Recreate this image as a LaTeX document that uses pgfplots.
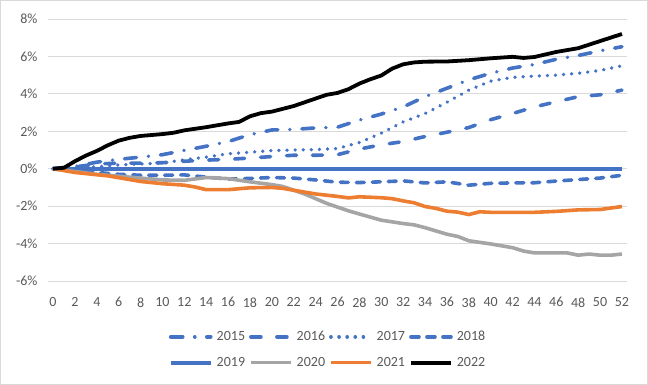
\documentclass[border=0pt]{standalone}
\usepackage{pgfplots}
\pgfplotsset{compat=1.18}
\usepackage{fontspec}
\setmainfont{Carlito}
\definecolor{xblue}{HTML}{4472C4}
\definecolor{xgray}{HTML}{A5A5A5}
\definecolor{xorange}{HTML}{ED7D31}
\definecolor{xgrid}{HTML}{D9D9D9}
\definecolor{xtext}{HTML}{595959}
\begin{document}
\begin{tikzpicture}[x=1pt,y=1pt]
\draw[xgrid, line width=1pt] (0.5,0.5) rectangle (647.5,384.5);
\begin{axis}[
  at={(48pt,104pt)}, anchor=south west,
  scale only axis, width=579pt, height=262pt,
  xmin=-0.46, xmax=52.46, ymin=-6, ymax=8,
  xtick={0,2,...,52}, ytick={-6,-4,...,8},
  axis line style={draw=none},
  major tick length=0pt,
  ymajorgrids, grid style={xgrid, line width=0.8pt},
  /pgf/number format/assume math mode=true,
  yticklabel={\pgfmathprintnumber{\tick}\%},
  ticklabel style={font=\fontsize{14}{16}\selectfont, text=xtext},
  yticklabel style={anchor=east, xshift=-7pt},
  xticklabel style={anchor=north, yshift=-13pt},
  legend columns=4,
  legend style={at={(0.4836,-0.262)}, anchor=center, draw=none, fill=none,
    font=\fontsize{14}{16}\selectfont, text=xtext, row sep=11pt, column sep=2pt},
  legend cell align=left,
  legend image code/.code={\draw[#1] (0pt,0pt) -- (40pt,0pt);},
  every axis plot/.append style={line width=3.6pt, line join=round},
]
% 2015
\addplot[xblue, line cap=round, dash pattern=on 12pt off 12pt on 0.1pt off 12pt] coordinates {
(0,0) (2,0.12) (4,0.35) (6,0.5) (8,0.62) (10,0.75) (12,0.98) (14,1.2) (16,1.45) (18,1.82) (20,2.07) (22,2.1) (24,2.18) (26,2.22) (28,2.6) (30,2.92) (32,3.3) (34,3.85) (36,4.3) (38,4.75) (40,5.1) (42,5.38) (44,5.57) (46,5.85) (48,6.05) (50,6.3) (52,6.52)};
\addlegendentry{2015}
% 2016
\addplot[xblue, line cap=round, dash pattern=on 10pt off 16pt] coordinates {
(0,0) (2,0.1) (4,0.25) (6,0.3) (8,0.3) (10,0.32) (12,0.4) (14,0.46) (16,0.5) (18,0.57) (20,0.65) (22,0.72) (24,0.72) (26,0.75) (28,1.05) (30,1.28) (32,1.45) (34,1.72) (36,1.95) (38,2.2) (40,2.62) (42,2.95) (44,3.3) (46,3.58) (48,3.85) (50,3.95) (52,4.2)};
\addlegendentry{2016}
% 2017
\addplot[xblue, line cap=round, dash pattern=on 0.1pt off 8pt] coordinates {
(0,0) (2,0.05) (4,0.1) (6,0.2) (8,0.25) (10,0.3) (12,0.48) (14,0.62) (16,0.8) (18,0.88) (20,0.97) (22,1.0) (24,1.02) (26,1.08) (28,1.4) (30,1.9) (32,2.5) (34,2.95) (36,3.55) (38,4.2) (40,4.68) (42,4.88) (44,4.95) (46,5.0) (48,5.1) (50,5.25) (52,5.5)};
\addlegendentry{2017}
% 2018
\addplot[xblue, line cap=round, dash pattern=on 8pt off 8pt] coordinates {
(0,0) (2,-0.05) (4,-0.2) (6,-0.3) (8,-0.35) (10,-0.35) (12,-0.33) (14,-0.45) (16,-0.55) (18,-0.52) (20,-0.47) (22,-0.5) (24,-0.6) (26,-0.72) (28,-0.74) (30,-0.7) (32,-0.65) (34,-0.76) (36,-0.7) (38,-0.88) (40,-0.78) (42,-0.76) (44,-0.75) (46,-0.66) (48,-0.58) (50,-0.5) (52,-0.35)};
\addlegendentry{2018}
% 2019
\addplot[xblue, line width=4pt] coordinates {(0,0) (52,0)};
\addlegendentry{2019}
% 2020
\addplot[xgray] coordinates {
(0,0) (2,-0.15) (4,-0.3) (6,-0.4) (8,-0.5) (10,-0.6) (12,-0.62) (14,-0.47) (16,-0.53) (18,-0.7) (20,-0.85) (21,-0.95) (22,-1.15) (23,-1.35) (24,-1.6) (25,-1.85) (26,-2.05) (27,-2.25) (28,-2.42) (30,-2.75) (32,-2.93) (33,-3.0) (34,-3.15) (36,-3.5) (37,-3.62) (38,-3.85) (40,-4.02) (42,-4.22) (43,-4.4) (44,-4.5) (46,-4.5) (47,-4.5) (48,-4.62) (49,-4.56) (50,-4.62) (51,-4.62) (52,-4.56)};
\addlegendentry{2020}
% 2021
\addplot[xorange] coordinates {
(0,0) (2,-0.2) (4,-0.32) (5,-0.38) (6,-0.48) (8,-0.68) (10,-0.8) (12,-0.88) (13,-0.98) (14,-1.12) (16,-1.12) (18,-1.02) (20,-1.0) (21,-1.05) (22,-1.15) (24,-1.35) (26,-1.48) (27,-1.56) (28,-1.5) (30,-1.55) (31,-1.6) (32,-1.72) (33,-1.82) (34,-2.02) (35,-2.12) (36,-2.27) (37,-2.32) (38,-2.45) (39,-2.3) (40,-2.33) (44,-2.33) (46,-2.28) (48,-2.2) (50,-2.18) (51,-2.1) (52,-2.02)};
\addlegendentry{2021}
% 2022
\addplot[black, line width=3.8pt] coordinates {
(0,0) (1,0.05) (2,0.4) (3,0.7) (4,0.95) (5,1.25) (6,1.5) (7,1.65) (8,1.75) (10,1.85) (11,1.92) (12,2.05) (14,2.22) (16,2.42) (17,2.5) (18,2.8) (19,2.97) (20,3.05) (22,3.35) (24,3.75) (25,3.95) (26,4.05) (27,4.25) (28,4.55) (29,4.78) (30,4.98) (31,5.35) (32,5.58) (33,5.68) (34,5.72) (36,5.73) (38,5.8) (40,5.9) (42,5.98) (43,5.92) (44,5.97) (46,6.24) (48,6.44) (50,6.82) (52,7.2)};
\addlegendentry{2022}
\end{axis}
\end{tikzpicture}
\end{document}
